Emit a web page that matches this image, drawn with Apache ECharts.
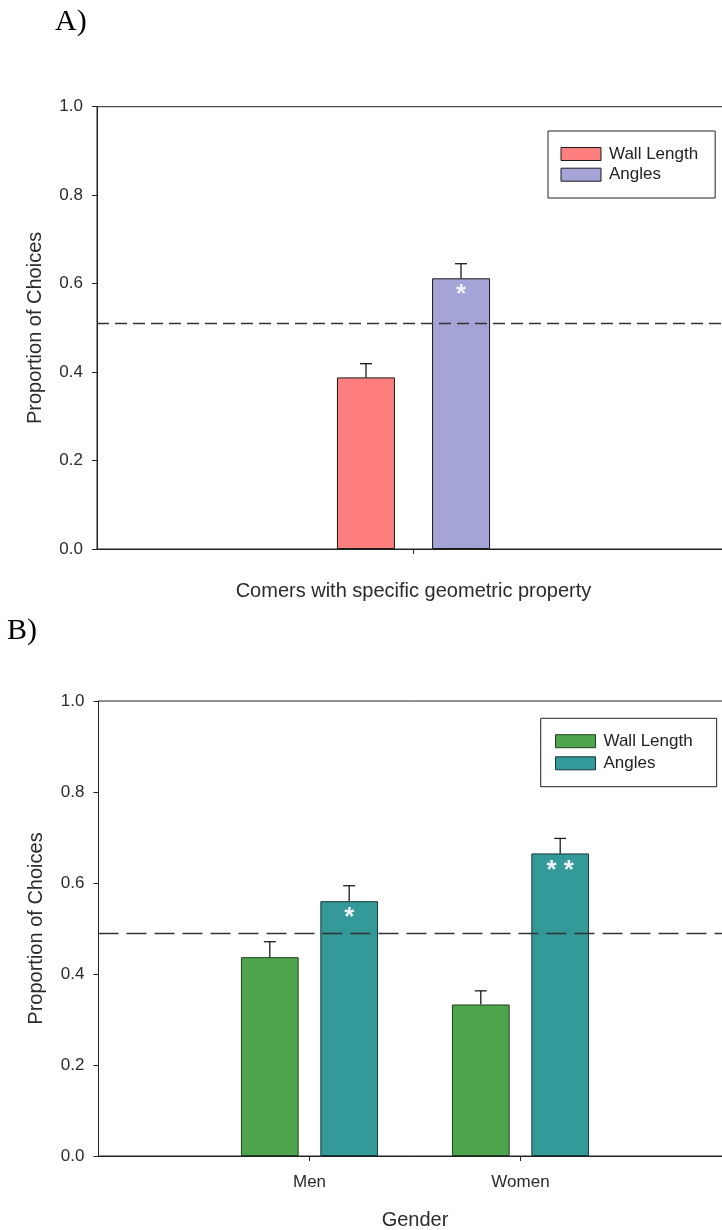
<!DOCTYPE html>
<html><head><meta charset="utf-8">
<script src="https://cdn.jsdelivr.net/npm/echarts@6/dist/echarts.min.js"></script>
<style>html,body{margin:0;padding:0;background:#fff}#c{width:722px;height:1230px}</style>
</head><body><div id="c"></div>
<script>
// ---------- data ----------
const yMin = 0, yMax = 1.0, yStep = 0.2;
const legendNames = ['Wall Length', 'Angles'];
// Panel A
const catsA = ['', 'Corners', ' '];
const wallA = [0.388];
const wallAErr = [0.031];
const angA = [0.612];
const angAErr = [0.033];
const sigA = ['*'];
const chanceA = 0.505;
const xTitleA = 'Comers with specific geometric property';
// Panel B
const catsB = ['', 'Men', 'Women', ' '];
const wallB = [0.437, 0.333];
const wallBErr = [0.034, 0.030];
const angB = [0.560, 0.665];
const angBErr = [0.034, 0.033];
const sigB = ['*', '**'];
const chanceB = 0.493;
const xTitleB = 'Gender';
const yTitle = 'Proportion of Choices';

// ---------- helpers ----------
const FONT = '"Liberation Sans", Arial, sans-serif';
const AX = '#222';
const TXT = '#2b2b2b';
const pad = arr => ['-'].concat(arr, ['-']);
const errData = (vals, errs) => vals.map((v, i) => [i + 1, v, errs[i]]);

function yAxisCfg(gi) {
  return {
    gridIndex: gi, type: 'value', min: yMin, max: yMax, interval: yStep,
    name: yTitle, nameLocation: 'middle', nameGap: 52, nameRotate: 90,
    nameTextStyle: { fontFamily: FONT, fontSize: 20, color: TXT },
    axisLine: { show: true, lineStyle: { color: AX, width: 1 } },
    axisTick: { show: true, inside: false, length: 5, lineStyle: { color: AX, width: 1 } },
    axisLabel: { margin: 14, fontFamily: FONT, fontSize: 17, color: TXT, formatter: v => v.toFixed(1) },
    splitLine: { show: false }
  };
}
function xAxisCfg(gi, cats, title, gap, showLabels) {
  return {
    gridIndex: gi, type: 'category', data: cats, boundaryGap: false,
    name: title, nameLocation: 'middle', nameGap: gap,
    nameTextStyle: { fontFamily: FONT, fontSize: 20, color: TXT },
    axisLine: { show: true, lineStyle: { color: AX, width: 1 } },
    axisTick: { show: true, length: 5, interval: (i) => i > 0 && i < cats.length - 1, lineStyle: { color: AX, width: 1 } },
    axisLabel: { show: showLabels, margin: 18, fontFamily: FONT, fontSize: 17, color: TXT,
      interval: (i) => i > 0 && i < cats.length - 1 },
    splitLine: { show: false }
  };
}
function errRender(offset) {
  return function (params, api) {
    const x = api.value(0), v = api.value(1), e = api.value(2);
    const base = api.coord([x, v]);
    const top = api.coord([x, v + e]);
    const cx = base[0] + offset, half = 6;
    const st = { stroke: '#1a1a1a', lineWidth: 1.3 };
    return { type: 'group', children: [
      { type: 'line', shape: { x1: cx, y1: base[1], x2: cx, y2: top[1] }, style: st },
      { type: 'line', shape: { x1: cx - half, y1: top[1], x2: cx + half, y2: top[1] }, style: st }
    ] };
  };
}
function legendCfg(prefix, left, top, padding, gap) {
  return {
    data: legendNames.map(n => prefix + n), orient: 'vertical', left: left, top: top,
    padding: padding, itemWidth: 40, itemHeight: 13, itemGap: gap, icon: 'rect',
    borderColor: AX, borderWidth: 1, selectedMode: false,
    formatter: n => n.slice(prefix.length),
    itemStyle: { borderWidth: 1, borderColor: 'inherit' },
    textStyle: { fontFamily: FONT, fontSize: 17, color: '#222', padding: [0, 0, 0, 3] }
  };
}
const markLine = (val, dash) => ({
  silent: true, symbol: ['none', 'none'], animation: false, label: { show: false },
  lineStyle: { type: dash, color: '#333', width: 1.3 }, data: [{ yAxis: val }]
});
const starLabel = (sig, offsetIdx) => ({
  show: true, position: 'insideTop', distance: 4, fontFamily: FONT, fontSize: 26, fontWeight: 'bold',
  formatter: p => (sig[p.dataIndex - offsetIdx] || '').split('').join(' '), color: '#eef4f8'
});

// ---------- chart ----------
const chart = echarts.init(document.getElementById('c'), null, { renderer: 'canvas' });
chart.setOption({
  animation: false,
  backgroundColor: '#fff',
  graphic: [
    { type: 'text', left: 55, top: 7, style: { text: 'A)', font: '30px "Liberation Serif", "Times New Roman", serif', fill: '#000' } },
    { type: 'text', left: 7, top: 616, style: { text: 'B)', font: '30px "Liberation Serif", "Times New Roman", serif', fill: '#000' } }
  ],
  grid: [
    { left: 97, top: 106.7, width: 633, height: 442.3, show: true, borderColor: AX, borderWidth: 1,
      backgroundColor: 'transparent', containLabel: false, outerBoundsMode: 'none' },
    { left: 98.5, top: 701, width: 633, height: 455, show: true, borderColor: AX, borderWidth: 1,
      backgroundColor: 'transparent', containLabel: false, outerBoundsMode: 'none' }
  ],
  legend: [
    legendCfg('A:', 548, 131, [14.5, 17, 14.8, 12.5], 3.7),
    legendCfg('B:', 540.7, 718.3, [14.4, 24, 14.9, 14.3], 5.1)
  ],
  xAxis: [ xAxisCfg(0, catsA, xTitleA, 32, false), xAxisCfg(1, catsB, xTitleB, 54, true) ],
  yAxis: [ yAxisCfg(0), yAxisCfg(1) ],
  series: [
    { name: 'A:Wall Length', type: 'bar', xAxisIndex: 0, yAxisIndex: 0, data: ['-', wallA[0], '-'],
      barWidth: 58, barGap: '64%', itemStyle: { color: '#FF7E7E', borderColor: '#1a1a1a', borderWidth: 1 } },
    { name: 'A:Angles', type: 'bar', xAxisIndex: 0, yAxisIndex: 0, data: ['-', angA[0], '-'],
      barWidth: 58, barGap: '64%', itemStyle: { color: '#A4A4D6', borderColor: '#1a1a1a', borderWidth: 1 },
      label: starLabel(sigA, 1) },
    { type: 'custom', xAxisIndex: 0, yAxisIndex: 0, z: 3, renderItem: errRender(-47.5),
      encode: { x: 0, y: 1 }, data: errData(wallA, wallAErr) },
    { type: 'custom', xAxisIndex: 0, yAxisIndex: 0, z: 3, renderItem: errRender(47.5),
      encode: { x: 0, y: 1 }, data: errData(angA, angAErr), markLine: markLine(chanceA, [12, 6]) },

    { name: 'B:Wall Length', type: 'bar', xAxisIndex: 1, yAxisIndex: 1, data: pad(wallB),
      barWidth: 57.7, barGap: '37.6%', itemStyle: { color: '#4EA54E', borderColor: '#1f3f1f', borderWidth: 1 } },
    { name: 'B:Angles', type: 'bar', xAxisIndex: 1, yAxisIndex: 1, data: pad(angB),
      barWidth: 57.7, barGap: '37.6%', itemStyle: { color: '#339999', borderColor: '#143838', borderWidth: 1 },
      label: starLabel(sigB, 1) },
    { type: 'custom', xAxisIndex: 1, yAxisIndex: 1, z: 3, renderItem: errRender(-39.7),
      encode: { x: 0, y: 1 }, data: errData(wallB, wallBErr) },
    { type: 'custom', xAxisIndex: 1, yAxisIndex: 1, z: 3, renderItem: errRender(39.7),
      encode: { x: 0, y: 1 }, data: errData(angB, angBErr), markLine: markLine(chanceB, [20, 8]) }
  ]
});
</script>
</body></html>
